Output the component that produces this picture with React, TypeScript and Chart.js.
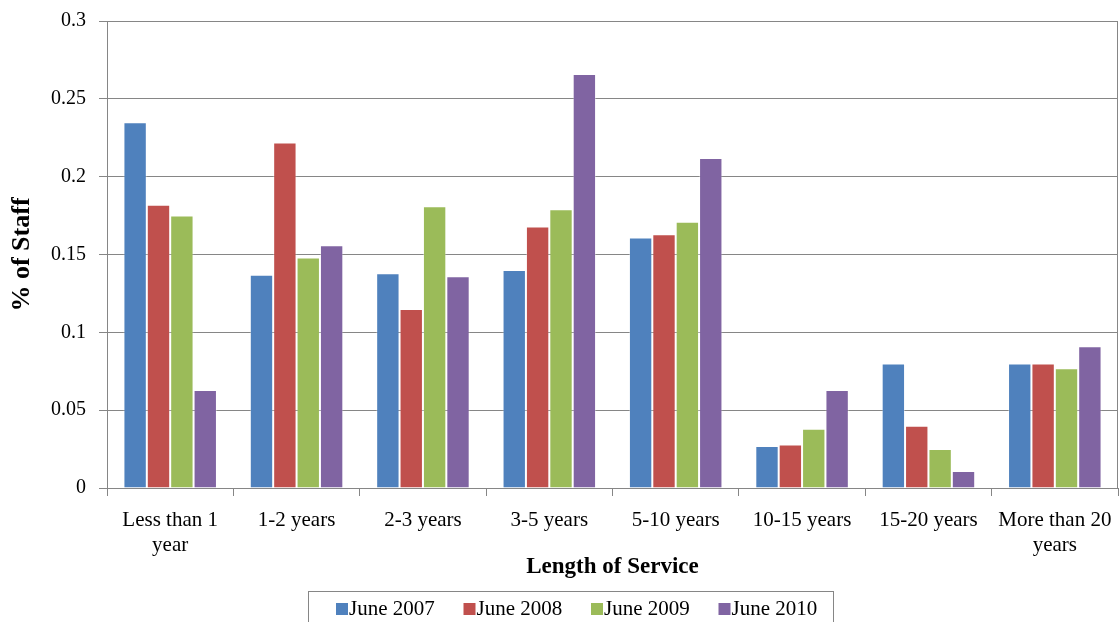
import React, { useEffect, useRef } from "react";
import { Chart, registerables } from "chart.js";

Chart.register(...registerables);

const categories: (string | string[])[] = [
  ["Less than 1", "year"],
  "1-2 years",
  "2-3 years",
  "3-5 years",
  "5-10 years",
  "10-15 years",
  "15-20 years",
  ["More than 20", "years"],
];

const seriesNames = ["June 2007", "June 2008", "June 2009", "June 2010"];
const june2007 = [0.235, 0.137, 0.138, 0.14, 0.161, 0.027, 0.08, 0.08];
const june2008 = [0.182, 0.222, 0.115, 0.168, 0.163, 0.028, 0.04, 0.08];
const june2009 = [0.175, 0.148, 0.181, 0.179, 0.171, 0.038, 0.025, 0.077];
const june2010 = [0.063, 0.156, 0.136, 0.266, 0.212, 0.063, 0.011, 0.091];
const seriesColors = ["#4F81BD", "#C0504D", "#9BBB59", "#8064A2"];

const yTicks = { min: 0, max: 0.3, step: 0.05 };

const FONT = "'Liberation Serif', 'Times New Roman', serif";
const GRAY = "#868686";

const frameAndLegend = {
  id: "frameAndLegend",
  afterDraw(chart: any) {
    const { ctx, chartArea } = chart;
    ctx.save();
    ctx.strokeStyle = GRAY;
    ctx.lineWidth = 1;
    ctx.beginPath();
    ctx.moveTo(Math.round(chartArea.right) - 0.5, chartArea.top);
    ctx.lineTo(Math.round(chartArea.right) - 0.5, chartArea.bottom);
    ctx.stroke();
    ctx.strokeRect(308.5, 591.5, 525, 40);
    ctx.font = `21px ${FONT}`;
    ctx.textBaseline = "middle";
    ctx.textAlign = "left";
    chart.data.datasets.forEach((ds: any, i: number) => {
      const x = 336 + i * 127.5;
      ctx.fillStyle = ds.backgroundColor;
      ctx.fillRect(x, 603, 12, 12);
      ctx.fillStyle = "#000";
      ctx.fillText(ds.label, x + 13, 609);
    });
    ctx.restore();
  },
};

export default function App() {
  const ref = useRef<HTMLCanvasElement | null>(null);
  useEffect(() => {
    if (!ref.current) return;
    const data = [june2007, june2008, june2009, june2010];
    const chart = new Chart(ref.current, {
      type: "bar",
      data: {
        labels: categories,
        datasets: seriesNames.map((name, i) => ({
          label: name,
          data: data[i],
          backgroundColor: seriesColors[i],
          borderColor: "rgba(255,255,255,0.35)",
          borderWidth: 1,
          categoryPercentage: 0.74,
          barPercentage: 1.0,
        })),
      },
      options: {
        animation: false,
        responsive: false,
        layout: { padding: { left: 0, right: 1, top: 21, bottom: 0 } },
        plugins: {
          legend: { display: false },
          tooltip: { enabled: false },
        },
        scales: {
          x: {
            grid: {
              display: true,
              drawOnChartArea: false,
              drawTicks: true,
              tickLength: 8,
              offset: true,
              color: GRAY,
            },
            border: { display: true, color: GRAY },
            ticks: {
              color: "#000",
              padding: 12,
              maxRotation: 0,
              autoSkip: false,
              font: { family: FONT, size: 21, lineHeight: 1.2 },
            },
            title: {
              display: true,
              text: "Length of Service",
              color: "#000",
              font: { family: FONT, size: 23, weight: "bold", lineHeight: 1.1 },
              padding: { top: 0, bottom: 42 },
            },
            afterFit(scale: any) {
              scale.height = 134;
              scale.paddingLeft = 0;
              scale.paddingRight = 0;
            },
          },
          y: {
            min: yTicks.min,
            max: yTicks.max,
            grid: { color: GRAY, tickLength: 8 },
            border: { display: true, color: GRAY },
            ticks: {
              stepSize: yTicks.step,
              color: "#000",
              padding: 13,
              font: { family: FONT, size: 20 },
              callback: (v: any) => String(Number(Number(v).toFixed(2))),
            },
            title: {
              display: true,
              text: "% of Staff",
              color: "#000",
              font: { family: FONT, size: 26, weight: "bold", lineHeight: 1.1 },
              padding: { top: 8, bottom: 0 },
            },
            afterFit(scale: any) {
              scale.width = 107;
              scale.paddingTop = 0;
              scale.paddingBottom = 0;
            },
          },
        },
      },
      plugins: [frameAndLegend],
    });
    return () => chart.destroy();
  }, []);
  return (
    <div style={{ position: "absolute", left: 0, top: 0, width: 1119, height: 622, background: "#fff" }}>
      <canvas ref={ref} width={1119} height={622} style={{ display: "block" }} />
    </div>
  );
}
